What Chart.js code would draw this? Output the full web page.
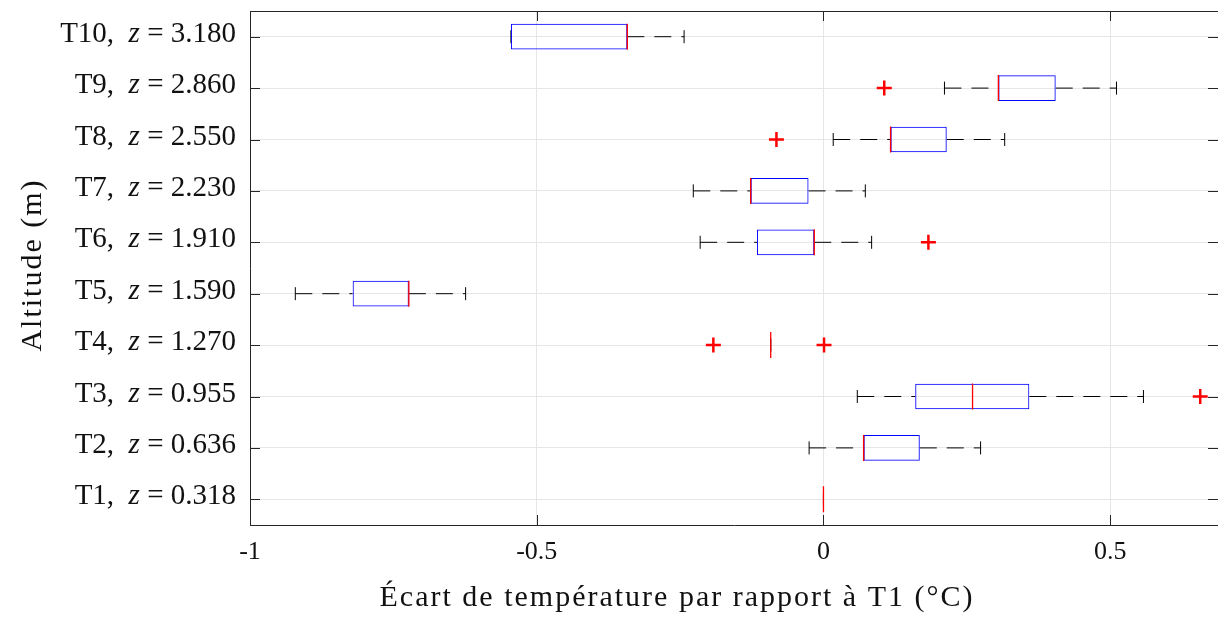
<!DOCTYPE html>
<html>
<head>
<meta charset="utf-8">
<script src="https://cdn.jsdelivr.net/npm/chart.js@4"></script>
<style>
  html, body { margin: 0; padding: 0; background: #fff; overflow: hidden; }
  #wrap { width: 1218px; height: 619px; }
</style>
</head>
<body>
<div id="wrap"><canvas id="box-chart"></canvas></div>
<script>
// sensors from bottom (T1) to top (T10)
const sensors = ['T1', 'T2', 'T3', 'T4', 'T5', 'T6', 'T7', 'T8', 'T9', 'T10'];
const altitudes = ['0.318', '0.636', '0.955', '1.270', '1.590', '1.910', '2.230', '2.550', '2.860', '3.180'];

const lowerWhisker = [0, -0.025, 0.059, -0.092, -0.921, -0.215, -0.227, 0.017, 0.211, -0.545];
const q1           = [0,  0.070, 0.160, -0.092, -0.821, -0.116, -0.127, 0.117, 0.305, -0.545];
const median       = [0,  0.070, 0.260, -0.092, -0.723, -0.016, -0.127, 0.117, 0.305, -0.342];
const q3           = [0,  0.168, 0.359, -0.092, -0.723, -0.016, -0.026, 0.215, 0.405, -0.342];
const upperWhisker = [0,  0.274, 0.558, -0.092, -0.624,  0.084,  0.073, 0.316, 0.511, -0.243];
const outliers = [[], [], [0.657], [-0.192, 0.001], [], [0.183], [], [-0.082], [0.106], []];

const xTicks = [-1, -0.5, 0, 0.5];
const xMin = -1;
const xMax = 0.688;
const xTitle = 'Écart de température par rapport à T1 (°C)';
const yTitle = 'Altitude (m)';

const FONT = "'Liberation Serif', 'Times New Roman', serif";
const AXIS_COLOR = '#262626';
const GRID_COLOR = '#e6e6e6';
const TEXT_COLOR = '#111';

const datasets = [];

// boxes
datasets.push({
    type: 'bar',
    data: sensors.map((s, i) => [q1[i], q3[i]]),
    backgroundColor: 'rgba(0,0,0,0)',
    borderColor: '#0000ff',
    borderWidth: 1,
    borderSkipped: false,
    categoryPercentage: 1,
    barPercentage: 0.5,
    order: 2
});

// dashed whiskers: right one starts at the box, left one starts at the cap
sensors.forEach((s, i) => {
    const common = {
        type: 'line',
        borderColor: '#000',
        borderWidth: 1,
        borderDash: [17, 10],
        pointRadius: 0,
        fill: false,
        order: 3
    };
    datasets.push({ ...common, data: [{ x: lowerWhisker[i], y: s }, { x: q1[i], y: s }] });
    datasets.push({ ...common, data: [{ x: q3[i], y: s }, { x: upperWhisker[i], y: s }] });
});

// whisker caps
datasets.push({
    type: 'scatter',
    data: sensors.flatMap((s, i) => [{ x: lowerWhisker[i], y: s }, { x: upperWhisker[i], y: s }]),
    pointStyle: 'line',
    rotation: 90,
    pointRadius: 6.5,
    borderColor: '#000',
    borderWidth: 1,
    order: 3
});

// medians
datasets.push({
    type: 'scatter',
    data: sensors.map((s, i) => ({ x: median[i], y: s })),
    pointStyle: 'line',
    rotation: 90,
    pointRadius: 13,
    borderColor: '#ff0000',
    borderWidth: 1.3,
    order: 0
});

// outliers
datasets.push({
    type: 'scatter',
    data: sensors.flatMap((s, i) => outliers[i].map(v => ({ x: v, y: s }))),
    pointStyle: 'cross',
    pointRadius: 7.5,
    borderColor: '#ff0000',
    borderWidth: 2.5,
    order: 0
});

// box frame, inner ticks, y labels with italic z, axis titles
const framePlugin = {
    id: 'frame',
    afterDraw(chart) {
        const { ctx, chartArea: a, scales: { x, y } } = chart;
        ctx.save();
        ctx.strokeStyle = AXIS_COLOR;
        ctx.lineWidth = 1;
        ctx.beginPath();
        ctx.moveTo(a.left, a.top + 0.5);
        ctx.lineTo(a.right, a.top + 0.5);
        xTicks.forEach(v => {
            const px = Math.round(x.getPixelForValue(v)) + 0.5;
            ctx.moveTo(px, a.bottom);
            ctx.lineTo(px, a.bottom - 10);
            ctx.moveTo(px, a.top);
            ctx.lineTo(px, a.top + 10);
        });
        sensors.forEach((s, i) => {
            const py = Math.round(y.getPixelForValue(i)) + 0.5;
            ctx.moveTo(a.left, py);
            ctx.lineTo(a.left + 10, py);
            ctx.moveTo(a.right, py);
            ctx.lineTo(a.right - 10, py);
        });
        ctx.stroke();

        ctx.fillStyle = TEXT_COLOR;
        ctx.textBaseline = 'alphabetic';
        ctx.textAlign = 'left';
        sensors.forEach((s, i) => {
            const py = y.getPixelForValue(i);
            const parts = [
                { t: s + ',  ', f: '29px ' + FONT },
                { t: 'z', f: 'italic 29px ' + FONT },
                { t: ' = ' + altitudes[i], f: '29px ' + FONT }
            ];
            let w = 0;
            parts.forEach(p => { ctx.font = p.f; p.w = ctx.measureText(p.t).width; w += p.w; });
            let cx = a.left - 14 - w;
            parts.forEach(p => { ctx.font = p.f; ctx.fillText(p.t, cx, py + 5); cx += p.w; });
        });

        ctx.font = '30px ' + FONT;
        ctx.letterSpacing = '2px';
        ctx.textAlign = 'center';
        ctx.fillText(xTitle, 677, 606);

        ctx.translate(33, 265);
        ctx.rotate(-Math.PI / 2);
        ctx.textBaseline = 'middle';
        ctx.fillText(yTitle, 0, 0);
        ctx.restore();
    }
};

const noPadding = s => { s.paddingLeft = 0; s.paddingRight = 0; s.paddingTop = 0; s.paddingBottom = 0; };

new Chart(document.getElementById('box-chart'), {
    type: 'bar',
    data: { labels: sensors, datasets: datasets },
    options: {
        indexAxis: 'y',
        responsive: true,
        maintainAspectRatio: false,
        animation: false,
        events: [],
        layout: { autoPadding: false, padding: { top: 11, left: 0, right: 0, bottom: 0 } },
        plugins: {
            legend: { display: false },
            tooltip: { enabled: false }
        },
        scales: {
            x: {
                type: 'linear',
                min: xMin,
                max: xMax,
                offset: false,
                afterBuildTicks: s => { s.ticks = xTicks.map(v => ({ value: v })); },
                afterFit: s => { s.height = 94; noPadding(s); },
                grid: { color: GRID_COLOR, drawTicks: false },
                border: { color: AXIS_COLOR, width: 1 },
                ticks: {
                    padding: 12,
                    color: TEXT_COLOR,
                    font: { family: FONT, size: 26 },
                    callback: v => String(v)
                }
            },
            y: {
                type: 'category',
                reverse: true,
                offset: true,
                afterFit: s => { s.width = 250; noPadding(s); },
                grid: { color: GRID_COLOR, drawTicks: false, offset: false },
                border: { color: AXIS_COLOR, width: 1 },
                ticks: { display: false }
            }
        }
    },
    plugins: [framePlugin]
});
</script>
</body>
</html>
